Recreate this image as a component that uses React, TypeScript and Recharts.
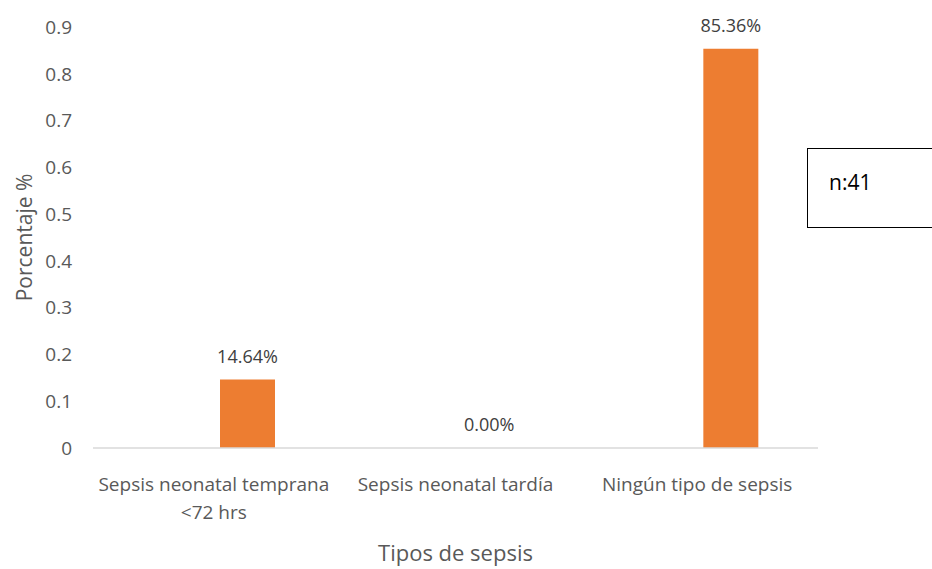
import React from 'react';
import { BarChart, Bar, XAxis, YAxis, LabelList, Label, Text } from 'recharts';

const categories = ['Sepsis neonatal temprana <72 hrs', 'Sepsis neonatal tardía', 'Ningún tipo de sepsis'];
// Excel had an empty first series, which pushes the orange bars right of the category centre
const emptySeries: (number | null)[] = [null, null, null];
const percentages = [0.1464, 0, 0.8536];
const yTicks = [0, 0.1, 0.2, 0.3, 0.4, 0.5, 0.6, 0.7, 0.8, 0.9];

const FONT = '"Liberation Sans Narrow", "Open Sans", sans-serif';
const GREY = '#595959';

const data = categories.map((name, i) => ({
  name,
  blank: emptySeries[i],
  value: percentages[i],
}));

const CategoryTick = ({ x, y, payload }: any) => (
  <Text
    x={x}
    y={y + 22}
    width={215}
    textAnchor="middle"
    verticalAnchor="start"
    lineHeight={28}
    fill={GREY}
    style={{ fontFamily: FONT, fontSize: 19 }}
  >
    {payload.value}
  </Text>
);

export default function App() {
  return (
    <div style={{ position: 'absolute', left: 0, top: 0, width: 932, height: 569, overflow: 'hidden', background: '#fff' }}>
      <BarChart
        width={932}
        height={569}
        data={data}
        margin={{ top: 27, right: 114, left: 0, bottom: 31 }}
        barSize={55}
        barGap={13}
      >
        <XAxis
          dataKey="name"
          height={90}
          axisLine={{ stroke: '#d9d9d9', strokeWidth: 1.5 }}
          tickLine={false}
          tick={<CategoryTick />}
          interval={0}
        >
          <Label
            value="Tipos de sepsis"
            position="bottom"
            offset={7}
            fill={GREY}
            style={{ fontFamily: FONT, fontSize: 22 }}
          />
        </XAxis>
        <YAxis
          width={93}
          domain={[0, 0.9]}
          ticks={yTicks}
          axisLine={false}
          tickLine={false}
          tickSize={0}
          tickMargin={21}
          tick={{ fill: GREY, fontSize: 19, fontFamily: FONT }}
        >
          <Label
            value="Porcentaje %"
            angle={-90}
            position="insideLeft"
            offset={25}
            fill={GREY}
            style={{ fontFamily: FONT, fontSize: 21, textAnchor: 'middle' }}
          />
        </YAxis>
        <Bar dataKey="blank" fill="#4472C4" isAnimationActive={false} />
        <Bar dataKey="value" fill="#ED7D31" minPointSize={0.01} isAnimationActive={false}>
          <LabelList
            dataKey="value"
            position="top"
            offset={17}
            formatter={(v: any) => `${(Number(v) * 100).toFixed(2)}%`}
            fill="#404040"
            style={{ fontFamily: FONT, fontSize: 18 }}
          />
        </Bar>
      </BarChart>
      <div
        style={{
          position: 'absolute',
          left: 807,
          top: 148,
          width: 140,
          height: 80,
          border: '1.5px solid #000',
          boxSizing: 'border-box',
          fontFamily: '"Open Sans", Calibri, sans-serif',
          fontSize: 21,
          color: '#000',
          paddingLeft: 21,
          paddingTop: 19,
        }}
      >
        n:41
      </div>
    </div>
  );
}
